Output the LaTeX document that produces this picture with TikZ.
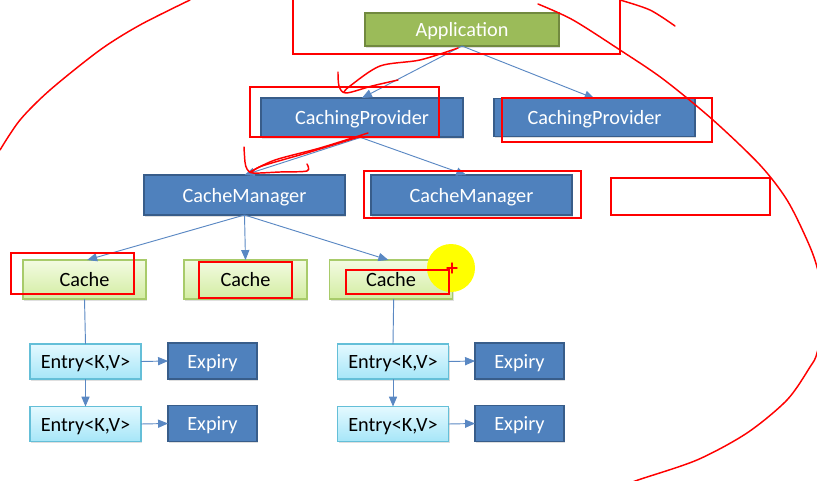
\documentclass[tikz,border=0pt]{standalone}
\usepackage{fontspec}
\setmainfont{Carlito}
\usetikzlibrary{arrows,shadows}
\definecolor{boxblue}{HTML}{4F81BD}
\definecolor{boxblueline}{HTML}{385D8A}
\definecolor{appgreen}{HTML}{9BBB59}
\definecolor{appgreenline}{HTML}{71893F}
\definecolor{cachetop}{HTML}{F3FBE2}
\definecolor{cachebot}{HTML}{D3EDA2}
\definecolor{cacheline}{HTML}{A8CB6A}
\definecolor{entrytop}{HTML}{E4F9FF}
\definecolor{entrybot}{HTML}{A6E6F8}
\definecolor{entryline}{HTML}{64BFD8}
\definecolor{linkblue}{HTML}{5A88C3}
\definecolor{penred}{HTML}{FF0000}
\definecolor{hiyellow}{HTML}{FFFF00}

\begin{document}
\begin{tikzpicture}[x=0.75pt,y=-0.75pt,
  every node/.style={inner sep=0pt,outer sep=0pt,text height=11pt,text depth=0pt,font=\fontsize{15.2}{18}\selectfont},
  boxshadow/.style={drop shadow={shadow xshift=1pt,shadow yshift=-1.2pt,opacity=0.25}},
  darkbox/.style={boxshadow,draw=boxblueline,line width=1pt,fill=boxblue,text=white},
  appbox/.style={boxshadow,draw=appgreenline,line width=1pt,fill=appgreen,text=white},
  cachebox/.style={boxshadow,draw=cacheline,line width=0.8pt,top color=cachetop,bottom color=cachebot},
  entrybox/.style={boxshadow,draw=entryline,line width=0.8pt,top color=entrytop,bottom color=entrybot},
  link/.style={draw=linkblue,line width=0.7pt,-triangle 45},
  plainlink/.style={draw=linkblue,line width=0.7pt},
  redbox/.style={draw=penred,line width=1.5pt},
  redpen/.style={draw=penred,line width=1.1pt,line cap=round,line join=round}]
\clip (0,0) rectangle (817,481);

\node[appbox,minimum width=145.5pt,minimum height=24.75pt] (app) at (462,29.5) {Application};
\node[darkbox,minimum width=151.5pt,minimum height=29.25pt] (cp1) at (362,117.5) {CachingProvider};
\node[darkbox,minimum width=150.75pt,minimum height=28.5pt] (cp2) at (594.5,117.5) {CachingProvider};
\node[darkbox,minimum width=150.75pt,minimum height=30pt] (cm1) at (244.5,195) {CacheManager};
\node[darkbox,minimum width=150.75pt,minimum height=30pt] (cm2) at (471.5,195) {CacheManager};
\node[cachebox,minimum width=92.25pt,minimum height=29.25pt] (cache1) at (84.5,279.5) {Cache};
\node[cachebox,minimum width=92.25pt,minimum height=29.25pt] (cache2) at (245.5,279.5) {Cache};
\node[cachebox,minimum width=92.25pt,minimum height=29.25pt] (cache3) at (391,279.5) {Cache};
\node[entrybox,minimum width=83.25pt,minimum height=26.25pt] (entry1) at (85.5,361.5) {Entry<K,V>};
\node[entrybox,minimum width=83.25pt,minimum height=26.25pt] (entry2) at (85.5,424) {Entry<K,V>};
\node[entrybox,minimum width=83.25pt,minimum height=26.25pt] (entry3) at (393,361.5) {Entry<K,V>};
\node[entrybox,minimum width=83.25pt,minimum height=26.25pt] (entry4) at (393,424) {Entry<K,V>};
\node[darkbox,minimum width=66.75pt,minimum height=27pt] (expiry1) at (212.5,361) {Expiry};
\node[darkbox,minimum width=66.75pt,minimum height=27pt] (expiry2) at (212.5,423.5) {Expiry};
\node[darkbox,minimum width=66.75pt,minimum height=27pt] (expiry3) at (519.5,361) {Expiry};
\node[darkbox,minimum width=66.75pt,minimum height=27pt] (expiry4) at (519.5,423.5) {Expiry};

\draw[link] (app.south) -- (cp1.north);
\draw[link] (app.south) -- (cp2.north);
\draw[link] (cp1.south) -- (cm1.north);
\draw[link] ([xshift=-2pt]cp1.south) -- ([xshift=-4pt]cm2.north);
\draw[link] (cm1.south) -- ([xshift=2pt]cache1.north);
\draw[link] (cm1.south) -- (cache2.north);
\draw[link] (cm1.south) -- ([xshift=-2pt]cache3.north);
\draw[plainlink] (cache1.south) -- (entry1.north);
\draw[plainlink] ([xshift=2pt]cache3.south) -- (entry3.north);
\draw[link] (entry1.south) -- (entry2.north);
\draw[link] (entry3.south) -- (entry4.north);
\draw[link] (entry1.east) -- (expiry1.west);
\draw[link] (entry2.east) -- (expiry2.west);
\draw[link] (entry3.east) -- (expiry3.west);
\draw[link] (entry4.east) -- (expiry4.west);

\fill[hiyellow] (451,268) circle (18pt);

\draw[redbox] (293,-1) rectangle (620,54);
\draw[redbox] (250,87) rectangle (439,137);
\draw[redbox] (502,98) rectangle (712,142);
\draw[redbox] (364,171) rectangle (581,218);
\draw[redbox] (611,178) rectangle (770,215);
\draw[redbox] (11,253) rectangle (134,294);
\draw[redbox] (199,262) rectangle (292,298);
\draw[redbox] (346,270) rectangle (449,294);
\draw[redpen] (447,268) -- (457,268) (452,263) -- (452,273);

\draw[redpen] plot[smooth] coordinates {(0,150) (20,120) (50,90) (100,50) (140,25) (190,0)};
\draw[redpen] plot[smooth] coordinates {(620,0) (650,10) (675,26)};
\draw[redpen] plot[smooth] coordinates {(538,4) (573,20) (620,50) (663,79) (713,120) (760,165) (787,200) (807,240) (817,267) (826,310) (817,353) (810,367) (787,400) (747,433) (697,460) (638,480) (620,487)};
\draw[redpen] plot[smooth] coordinates {(458,48) (420,60) (380,66) (350,86) (344,92)};
\draw[redpen] plot[smooth] coordinates {(338,72) (339,86) (346,93) (372,86) (398,80)};
\draw[redpen] plot[smooth] coordinates {(368,133) (320,148) (275,160) (250,172)};
\draw[redpen] plot[smooth] coordinates {(362,136) (310,152) (262,166) (252,172)};
\draw[redpen] plot[smooth] coordinates {(244,147) (245,162) (247,169) (253,173) (280,172) (307,171) (307,164)};
\end{tikzpicture}
\end{document}
